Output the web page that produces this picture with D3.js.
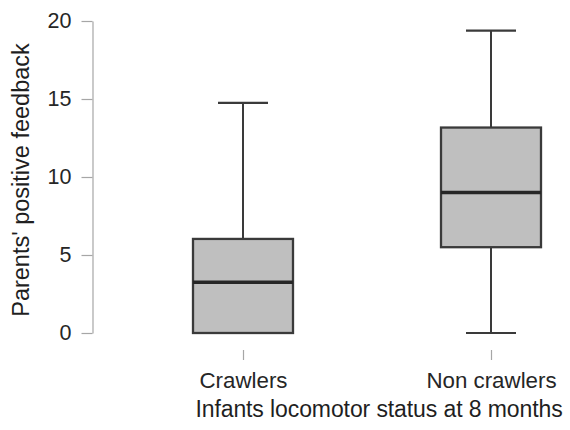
<!DOCTYPE html>
<html>
<head>
<meta charset="utf-8">
<script src="https://cdn.jsdelivr.net/npm/d3@7"></script>
<style>
  html, body { margin: 0; padding: 0; background: #fff; }
  svg { display: block; font-family: "Liberation Sans", Arial, sans-serif; }
</style>
</head>
<body>
<svg id="chart" width="570" height="430"></svg>
<script>
const categories = ["Crawlers", "Non crawlers"];
const mins    = [0, 0];
const q1s     = [0, 5.5];
const medians = [3.25, 9.0];
const q3s     = [6.03, 13.17];
const maxs    = [14.75, 19.38];
const yTicks  = [0, 5, 10, 15, 20];
const yLabel  = "Parents' positive feedback";
const xLabel  = "Infants locomotor status at 8 months";

const svg = d3.select("#chart");
const y = d3.scaleLinear().domain([0, 20]).range([333, 21]);
const x = d3.scalePoint().domain(categories).range([243, 491]);
const boxW = 100, capW = 50;

const data = categories.map((c, i) => ({
  cat: c, min: mins[i], q1: q1s[i], med: medians[i], q3: q3s[i], max: maxs[i]
}));

// Y axis
const yAxis = svg.append("g")
  .attr("transform", "translate(92.5,0)")
  .call(d3.axisLeft(y).tickValues(yTicks).tickSizeInner(11).tickSizeOuter(0).tickPadding(10));
yAxis.select(".domain").attr("stroke", "#a6a6a6").attr("stroke-width", 1.2);
yAxis.selectAll(".tick line").attr("stroke", "#a6a6a6").attr("stroke-width", 1.2);
yAxis.selectAll(".tick text")
  .attr("fill", "#262626").attr("font-size", 21.5)
  .attr("font-family", "'Liberation Sans', Arial, sans-serif");

// X axis (ticks only)
const xAxis = svg.append("g")
  .attr("transform", "translate(0,350)")
  .call(d3.axisBottom(x).tickSizeInner(10).tickSizeOuter(0).tickPadding(12));
xAxis.select(".domain").remove();
xAxis.selectAll(".tick line").attr("stroke", "#a6a6a6").attr("stroke-width", 1.2);
xAxis.selectAll(".tick text")
  .attr("fill", "#262626").attr("font-size", 22.3)
  .attr("font-family", "'Liberation Sans', Arial, sans-serif");

// Boxes
const g = svg.append("g").selectAll("g").data(data).join("g");
const stroke = "#3a3a3a";

// whiskers
g.append("line")
  .attr("x1", d => x(d.cat)).attr("x2", d => x(d.cat))
  .attr("y1", d => y(d.q3)).attr("y2", d => y(d.max))
  .attr("stroke", stroke).attr("stroke-width", 2);
g.append("line")
  .attr("x1", d => x(d.cat)).attr("x2", d => x(d.cat))
  .attr("y1", d => y(d.q1)).attr("y2", d => y(d.min))
  .attr("stroke", stroke).attr("stroke-width", 2);
// caps
g.append("line")
  .attr("x1", d => x(d.cat) - capW / 2).attr("x2", d => x(d.cat) + capW / 2)
  .attr("y1", d => y(d.max)).attr("y2", d => y(d.max))
  .attr("stroke", stroke).attr("stroke-width", 2.2);
g.append("line")
  .attr("x1", d => x(d.cat) - capW / 2).attr("x2", d => x(d.cat) + capW / 2)
  .attr("y1", d => y(d.min)).attr("y2", d => y(d.min))
  .attr("stroke", stroke).attr("stroke-width", 2.2);
// box
g.append("rect")
  .attr("x", d => x(d.cat) - boxW / 2).attr("width", boxW)
  .attr("y", d => y(d.q3)).attr("height", d => y(d.q1) - y(d.q3))
  .attr("fill", "#bfbfbf").attr("stroke", stroke).attr("stroke-width", 2.3);
// median
g.append("line")
  .attr("x1", d => x(d.cat) - boxW / 2).attr("x2", d => x(d.cat) + boxW / 2)
  .attr("y1", d => y(d.med)).attr("y2", d => y(d.med))
  .attr("stroke", "#262626").attr("stroke-width", 3.5);

// Axis titles
svg.append("text")
  .attr("x", 379).attr("y", 417)
  .attr("text-anchor", "middle")
  .attr("font-size", 23).attr("fill", "#1f1f1f")
  .attr("letter-spacing", -0.1)
  .text(xLabel);
svg.append("text")
  .attr("transform", "translate(29,180) rotate(-90)")
  .attr("text-anchor", "middle")
  .attr("font-size", 23.5).attr("fill", "#1f1f1f")
  .text(yLabel);
</script>
</body>
</html>
